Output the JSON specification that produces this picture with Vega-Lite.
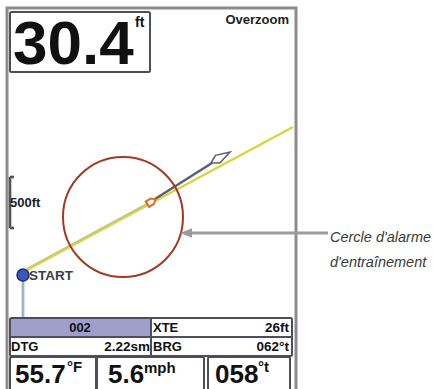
{
  "$schema": "https://vega.github.io/schema/vega-lite/v6.json",
  "width": 433,
  "height": 389,
  "autosize": {"type": "none"},
  "padding": 0,
  "background": "white",
  "config": {"view": {"stroke": null}},
  "datasets": {
    "rects": [
      {"kind": "frame", "x": 7, "x2": 296, "y": 8, "y2": 396},
      {"kind": "shade", "x": 10, "x2": 151, "y": 318, "y2": 337},
      {"kind": "box", "x": 10, "x2": 150, "y": 12, "y2": 72},
      {"kind": "box", "x": 10, "x2": 292, "y": 318, "y2": 356},
      {"kind": "box", "x": 10, "x2": 96, "y": 357, "y2": 396},
      {"kind": "box", "x": 97, "x2": 204, "y": 357, "y2": 396},
      {"kind": "box", "x": 208, "x2": 290, "y": 357, "y2": 396}
    ],
    "segments": [
      {"kind": "divider", "x": 151, "y": 318, "x2": 151, "y2": 356},
      {"kind": "divider", "x": 10, "y": 337, "x2": 292, "y2": 337},
      {"kind": "track", "x": 27, "y": 269, "x2": 149, "y2": 203},
      {"kind": "route", "x": 27, "y": 270, "x2": 293, "y2": 127},
      {"kind": "heading", "x": 155, "y": 199, "x2": 212, "y2": 163},
      {"kind": "bracket", "x": 10, "y": 177, "x2": 10, "y2": 228},
      {"kind": "bracket", "x": 10, "y": 177, "x2": 14, "y2": 177},
      {"kind": "bracket", "x": 10, "y": 228, "x2": 14, "y2": 228},
      {"kind": "startline", "x": 23, "y": 281, "x2": 23, "y2": 317},
      {"kind": "callout", "x": 190, "y": 233, "x2": 328, "y2": 233}
    ],
    "points": [
      {"kind": "alarm", "x": 123, "y": 217},
      {"kind": "start", "x": 23, "y": 275},
      {"kind": "boat", "x": 151, "y": 202},
      {"kind": "kite", "x": 220.5, "y": 157.5},
      {"kind": "callhead", "x": 186, "y": 233}
    ],
    "texts": [
      {"kind": "depth", "t": "30.4", "x": 13, "y": 64},
      {"kind": "depthunit", "t": "ft", "x": 135, "y": 27},
      {"kind": "overzoom", "t": "Overzoom", "x": 289, "y": 24},
      {"kind": "scale", "t": "500ft", "x": 10, "y": 207},
      {"kind": "start", "t": "START", "x": 29, "y": 280},
      {"kind": "pl", "t": "XTE", "x": 153, "y": 332},
      {"kind": "pl", "t": "DTG", "x": 11, "y": 351},
      {"kind": "pl", "t": "BRG", "x": 153, "y": 351},
      {"kind": "pr", "t": "26ft", "x": 289, "y": 332},
      {"kind": "pr", "t": "2.22sm", "x": 150, "y": 351},
      {"kind": "pr", "t": "062°t", "x": 289, "y": 351},
      {"kind": "pc", "t": "002", "x": 80, "y": 332},
      {"kind": "big", "t": "55.7", "x": 15, "y": 383},
      {"kind": "big", "t": "5.6", "x": 108, "y": 383},
      {"kind": "big", "t": "058", "x": 215, "y": 383},
      {"kind": "bigunit", "t": "°F", "x": 67, "y": 372},
      {"kind": "bigunit", "t": "mph", "x": 144, "y": 373},
      {"kind": "bigunit", "t": "°t", "x": 258, "y": 372},
      {"kind": "note", "t": "Cercle d'alarme", "x": 330, "y": 242},
      {"kind": "note", "t": "d'entraînement", "x": 330, "y": 267}
    ]
  },
  "encoding": {
    "x": {"field": "x", "type": "quantitative", "scale": {"domain": [0, 433], "nice": false, "zero": false}, "axis": null},
    "y": {"field": "y", "type": "quantitative", "scale": {"domain": [0, 389], "reverse": true, "nice": false, "zero": false}, "axis": null}
  },
  "layer": [
    {
      "data": {"name": "rects"},
      "transform": [{"filter": "datum.kind === 'frame'"}],
      "mark": {"type": "rect", "fill": "white", "stroke": "#8c8c8c", "strokeWidth": 3},
      "encoding": {"x2": {"field": "x2"}, "y2": {"field": "y2"}}
    },
    {
      "data": {"name": "rects"},
      "transform": [{"filter": "datum.kind === 'shade'"}],
      "mark": {"type": "rect", "fill": "#9f9fcb"},
      "encoding": {"x2": {"field": "x2"}, "y2": {"field": "y2"}}
    },
    {
      "data": {"name": "rects"},
      "transform": [{"filter": "datum.kind === 'box'"}],
      "mark": {"type": "rect", "fill": null, "fillOpacity": 0, "stroke": "#4d4d5c", "strokeWidth": 2, "cornerRadius": 1.5},
      "encoding": {"x2": {"field": "x2"}, "y2": {"field": "y2"}}
    },
    {
      "data": {"name": "segments"},
      "mark": {"type": "rule", "strokeCap": "butt"},
      "encoding": {
        "x2": {"field": "x2"},
        "y2": {"field": "y2"},
        "color": {"field": "kind", "type": "nominal", "legend": null,
          "scale": {"domain": ["divider", "track", "route", "heading", "bracket", "startline", "callout"],
                    "range": ["#4d4d5c", "#b8b8b8", "#d6d63c", "#5a5f78", "#555555", "#aab0c8", "#9c9c9c"]}},
        "strokeWidth": {"field": "kind", "type": "nominal", "legend": null,
          "scale": {"domain": ["divider", "track", "route", "heading", "bracket", "startline", "callout"],
                    "range": [2, 3, 2, 1.8, 2, 1.5, 2]}}
      }
    },
    {
      "data": {"name": "points"},
      "transform": [{"filter": "datum.kind === 'alarm'"}],
      "mark": {"type": "point", "shape": "circle", "size": 14400, "filled": false, "color": "#a23a22", "strokeWidth": 2, "opacity": 1}
    },
    {
      "data": {"name": "points"},
      "transform": [{"filter": "datum.kind === 'start'"}],
      "mark": {"type": "point", "shape": "circle", "size": 144, "filled": true, "fill": "#3c58ba", "stroke": "#1d2c78", "strokeWidth": 1.5, "opacity": 1}
    },
    {
      "data": {"name": "points"},
      "transform": [{"filter": "datum.kind === 'boat'"}],
      "mark": {"type": "point", "shape": "M0,-1 L0.6,-0.3 L0.6,0.8 L-0.6,0.8 L-0.6,-0.3 Z", "size": 110, "angle": 58, "filled": true, "fill": "white", "stroke": "#e06a28", "strokeWidth": 2, "opacity": 1}
    },
    {
      "data": {"name": "points"},
      "transform": [{"filter": "datum.kind === 'kite'"}],
      "mark": {"type": "point", "shape": "M0,-1 L0.4,0.3 L0,1 L-0.4,0.3 Z", "size": 484, "angle": 60, "filled": true, "fill": "white", "stroke": "#5a5f78", "strokeWidth": 1.6, "opacity": 1}
    },
    {
      "data": {"name": "points"},
      "transform": [{"filter": "datum.kind === 'callhead'"}],
      "mark": {"type": "point", "shape": "M-1,0 L1,-0.8 L1,0.8 Z", "size": 144, "filled": true, "fill": "#9c9c9c", "opacity": 1}
    },
    {
      "data": {"name": "texts"},
      "transform": [{"filter": "datum.kind === 'depth'"}],
      "mark": {"type": "text", "align": "left", "baseline": "alphabetic", "font": "Liberation Sans", "fontWeight": "bold", "fontSize": 62, "color": "#111111"},
      "encoding": {"text": {"field": "t"}}
    },
    {
      "data": {"name": "texts"},
      "transform": [{"filter": "datum.kind === 'depthunit'"}],
      "mark": {"type": "text", "align": "left", "baseline": "alphabetic", "font": "Liberation Sans", "fontWeight": "bold", "fontSize": 14, "color": "#111111"},
      "encoding": {"text": {"field": "t"}}
    },
    {
      "data": {"name": "texts"},
      "transform": [{"filter": "datum.kind === 'overzoom'"}],
      "mark": {"type": "text", "align": "right", "baseline": "alphabetic", "font": "Liberation Sans", "fontWeight": "bold", "fontSize": 13, "color": "#222222"},
      "encoding": {"text": {"field": "t"}}
    },
    {
      "data": {"name": "texts"},
      "transform": [{"filter": "datum.kind === 'scale'"}],
      "mark": {"type": "text", "align": "left", "baseline": "alphabetic", "font": "Liberation Sans", "fontWeight": "bold", "fontSize": 13, "color": "#222222"},
      "encoding": {"text": {"field": "t"}}
    },
    {
      "data": {"name": "texts"},
      "transform": [{"filter": "datum.kind === 'start'"}],
      "mark": {"type": "text", "align": "left", "baseline": "alphabetic", "font": "Liberation Sans", "fontWeight": "bold", "fontSize": 13.5, "color": "#3c3c4c"},
      "encoding": {"text": {"field": "t"}}
    },
    {
      "data": {"name": "texts"},
      "transform": [{"filter": "datum.kind === 'pl'"}],
      "mark": {"type": "text", "align": "left", "baseline": "alphabetic", "font": "Liberation Sans", "fontWeight": "bold", "fontSize": 13, "color": "#111111"},
      "encoding": {"text": {"field": "t"}}
    },
    {
      "data": {"name": "texts"},
      "transform": [{"filter": "datum.kind === 'pr'"}],
      "mark": {"type": "text", "align": "right", "baseline": "alphabetic", "font": "Liberation Sans", "fontWeight": "bold", "fontSize": 13.5, "color": "#111111"},
      "encoding": {"text": {"field": "t"}}
    },
    {
      "data": {"name": "texts"},
      "transform": [{"filter": "datum.kind === 'pc'"}],
      "mark": {"type": "text", "align": "center", "baseline": "alphabetic", "font": "Liberation Sans", "fontWeight": "bold", "fontSize": 13, "color": "#111111"},
      "encoding": {"text": {"field": "t"}}
    },
    {
      "data": {"name": "texts"},
      "transform": [{"filter": "datum.kind === 'big'"}],
      "mark": {"type": "text", "align": "left", "baseline": "alphabetic", "font": "Liberation Sans", "fontWeight": "bold", "fontSize": 26, "color": "#111111"},
      "encoding": {"text": {"field": "t"}}
    },
    {
      "data": {"name": "texts"},
      "transform": [{"filter": "datum.kind === 'bigunit'"}],
      "mark": {"type": "text", "align": "left", "baseline": "alphabetic", "font": "Liberation Sans", "fontWeight": "bold", "fontSize": 15, "color": "#111111"},
      "encoding": {"text": {"field": "t"}}
    },
    {
      "data": {"name": "texts"},
      "transform": [{"filter": "datum.kind === 'note'"}],
      "mark": {"type": "text", "align": "left", "baseline": "alphabetic", "font": "Liberation Sans", "fontStyle": "italic", "fontSize": 14.5, "color": "#3a3a3a"},
      "encoding": {"text": {"field": "t"}}
    }
  ]
}
